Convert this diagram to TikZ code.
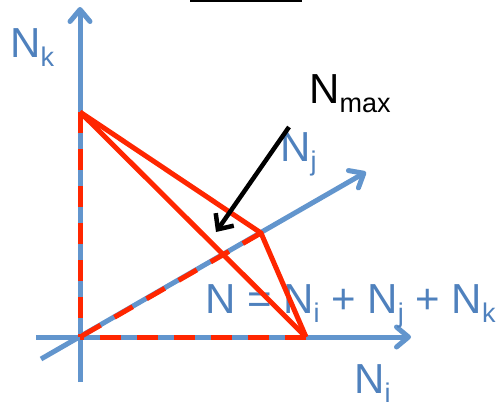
\documentclass[tikz,border=0pt]{standalone}
\usepackage{fontspec}
\setmainfont{Liberation Sans}
\usetikzlibrary{arrows.meta}
\definecolor{axisblue}{RGB}{98,149,205}
\definecolor{txtblue}{RGB}{79,129,189}
\definecolor{trired}{RGB}{255,38,0}
\newcommand{\subsc}[1]{\raisebox{-9bp}{\fontsize{27bp}{27bp}\selectfont #1}}
\begin{document}
\begin{tikzpicture}[x=1bp,y=-1bp,
  axisline/.style={draw=axisblue, line width=5bp, -{Straight Barb[length=12bp,width=20bp,round]}},
  reddash/.style={draw=trired, line width=5bp, dash pattern=on 21bp off 16bp},
  redsolid/.style={draw=trired, line width=5bp, line join=miter},
  blacklbl/.style={anchor=base west, inner sep=0pt, font=\fontsize{42bp}{42bp}\selectfont, text=black},
  bluelbl/.style={anchor=base west, inner sep=0pt, font=\fontsize{42bp}{42bp}\selectfont, text=txtblue},
  pointer/.style={draw=black, line width=4.5bp, -{Straight Barb[length=12bp,width=22bp]}}]
\useasboundingbox (0,0) rectangle (501,406);
% coordinates
\coordinate (O) at (80,337);
\coordinate (kbot) at (80,382);
\coordinate (ktop) at (80,7);
\coordinate (ileft) at (36,337);
\coordinate (iright) at (411,337);
\coordinate (jback) at (41,359);
\coordinate (jtip) at (366,172);
\coordinate (A) at (80,112);
\coordinate (B) at (306,337);
\coordinate (C) at (261,233);
\coordinate (ptail) at (289,127);
\coordinate (phead) at (216,232);
\coordinate (tl) at (190,1);
\coordinate (tr) at (302,1);
% top line
\draw[line width=2bp] (tl) -- (tr);
% axes
\draw[axisline] (kbot) -- (ktop);
\draw[axisline] (ileft) -- (iright);
\draw[axisline] (jback) -- (jtip);
% labels
\node[bluelbl] (lk) at (10,57) {N\subsc{k}};
\node[blacklbl] (lmax) at (309,103) {N\subsc{max}};
\node[bluelbl] (lj) at (280,161) {N\subsc{j}};
\node[bluelbl] (leq) at (205,313) {N = N\subsc{i} + N\subsc{j} + N\subsc{k}};
\node[bluelbl] (li) at (354,393) {N\subsc{i}};
% red dashed along axes
\draw[reddash] (A) -- (O);
\draw[reddash] (B) -- (O);
\draw[reddash] (C) -- (O);
% red solid triangle edges
\draw[redsolid] (A) -- (C) -- (B);
\draw[redsolid] (A) -- (B);
% pointer arrow
\draw[pointer] (ptail) -- (phead);
\end{tikzpicture}
\end{document}
